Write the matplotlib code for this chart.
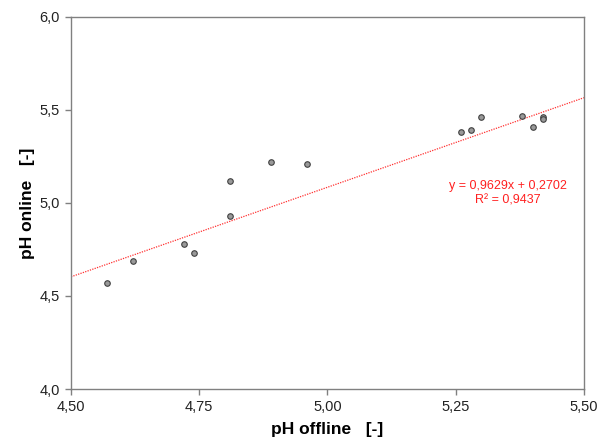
import matplotlib
matplotlib.use("Agg")
import matplotlib.pyplot as plt
import numpy as np

plt.rcParams['font.family'] = ['Liberation Sans', 'DejaVu Sans']

ph_offline = [4.57, 4.62, 4.72, 4.74, 4.81, 4.81, 4.89, 4.96, 5.26, 5.28, 5.30, 5.38, 5.40, 5.42, 5.42]
ph_online  = [4.57, 4.69, 4.78, 4.73, 5.12, 4.93, 5.22, 5.21, 5.38, 5.39, 5.46, 5.47, 5.41, 5.46, 5.45]
slope, intercept = 0.9629, 0.2702
r2 = 0.9437
xticks = [4.50, 4.75, 5.00, 5.25, 5.50]
xtick_labels = ["4,50", "4,75", "5,00", "5,25", "5,50"]
yticks = [4.0, 4.5, 5.0, 5.5, 6.0]
ytick_labels = ["4,0", "4,5", "5,0", "5,5", "6,0"]

fig = plt.figure(figsize=(6.11, 4.46), dpi=100)
ax = fig.add_axes([0.1162, 0.1278, 0.8396, 0.8341])

xl = np.array([4.5, 5.5])
ax.plot(xl, slope * xl + intercept, color='#ff3030', linestyle=(0, (1, 1)), linewidth=0.9)
ax.scatter(ph_offline, ph_online, s=16, facecolor='#999999', edgecolor='#404040', linewidth=0.8, zorder=3)

ax.set_xlim(4.5, 5.5)
ax.set_ylim(4.0, 6.0)
ax.set_xticks(xticks)
ax.set_xticklabels(xtick_labels)
ax.set_yticks(yticks)
ax.set_yticklabels(ytick_labels)
for s in ax.spines.values():
    s.set_color('#808080')
    s.set_linewidth(1.0)
ax.tick_params(direction='out', length=4, width=1, color='#808080', labelsize=10.5, labelcolor='#222222', pad=4)

ax.set_xlabel("pH offline   [-]", fontsize=12.5, fontweight='bold', labelpad=6)
ax.set_ylabel("pH online   [-]", fontsize=12.5, fontweight='bold', labelpad=3)

eq = "y = 0,9629x + 0,2702\nR² = 0,9437"
ax.text(5.351, 5.054, eq, color='#ff2020', fontsize=9, ha='center', va='center', linespacing=1.3)

fig.savefig("out.png", dpi=100)
